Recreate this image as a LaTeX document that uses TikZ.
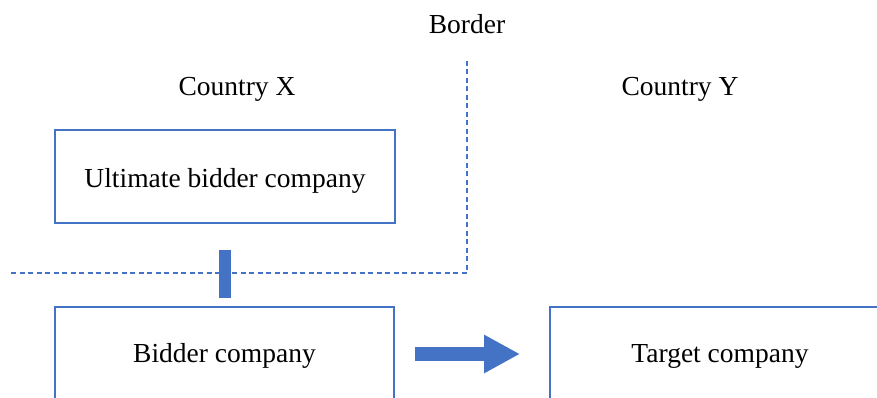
\documentclass[tikz,border=0pt]{standalone}
\usepackage{fontspec}
\setmainfont{Liberation Serif}
\usetikzlibrary{arrows.meta}
\definecolor{officeblue}{HTML}{4472C4}
\begin{document}
\begin{tikzpicture}[x=1bp,y=1bp,
  company/.style={draw=officeblue, line width=2bp, minimum width=340bp,
    minimum height=93bp, inner sep=0pt, font=\fontsize{27.5bp}{33bp}\selectfont},
  caption/.style={inner sep=0pt, anchor=base, font=\fontsize{27.5bp}{33bp}\selectfont},
  borderline/.style={draw=officeblue, line width=1.3bp, dash pattern=on 5bp off 3.5bp},
  ownership/.style={draw=officeblue, line width=12bp},
  acquire/.style={draw=officeblue, line width=14bp,
    -{Triangle[length=36bp,width=36bp]}}]
  \useasboundingbox (0,0) rectangle (877,397);
  \clip (0,0) rectangle (877,397);

  % national border
  \coordinate (bl) at (11,124);
  \coordinate (bc) at (467,124);
  \coordinate (bt) at (467,338);
  \draw[borderline] (bl) -- (bc) -- (bt);

  \node[caption] (border) at (467,363.5) {Border};
  \node[caption] (cx) at (237,302) {Country X};
  \node[caption] (cy) at (680,302) {Country Y};

  % companies
  \node[company, text height=24bp, text depth=2bp] (ult) at (225,221) {Ultimate bidder company};
  \node[company, text height=20bp, text depth=4bp, minimum width=339bp, minimum height=94bp]
    (bid) at (224.5,43) {Bidder company};
  \node[company, text height=20bp, text depth=4bp, minimum height=94bp]
    (tgt) at (720,43) {Target company};

  % ownership link and acquisition
  \draw[ownership, shorten <=26bp, shorten >=8bp] (ult.south -| 225,0) -- (bid.north -| 225,0);
  \draw[acquire, shorten <=20bp, shorten >=29bp] (bid.east) -- (tgt.west);
\end{tikzpicture}
\end{document}
